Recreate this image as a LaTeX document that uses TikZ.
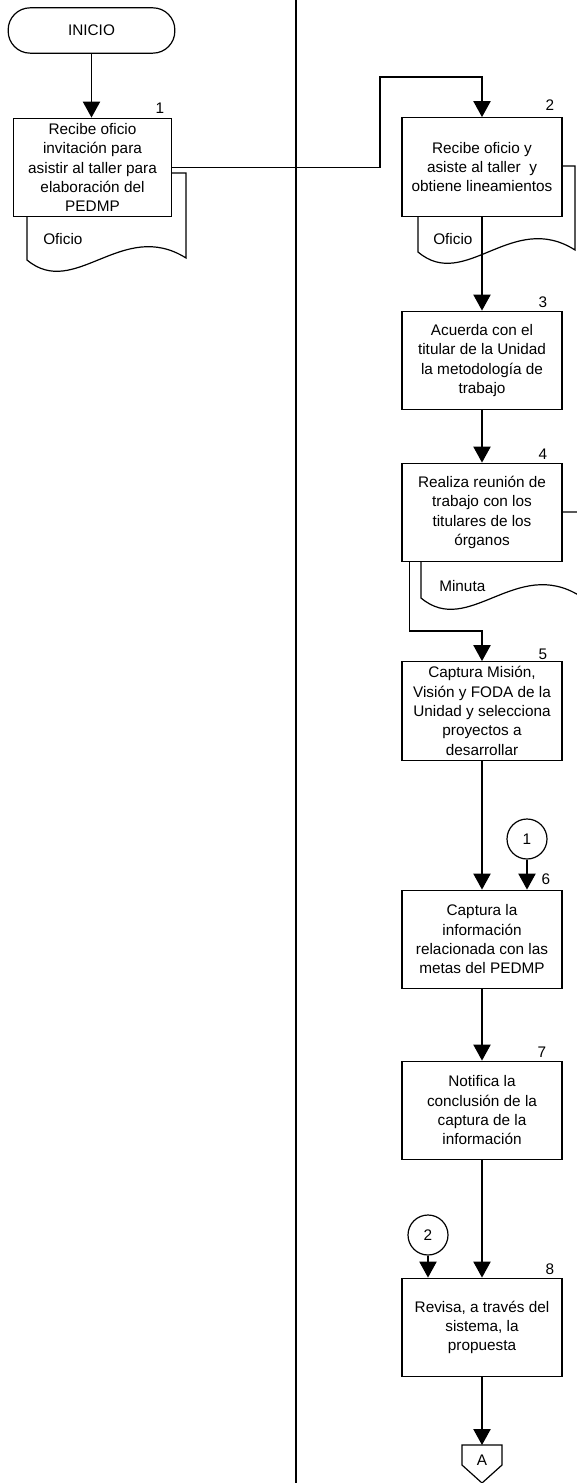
\documentclass[tikz,border=0pt]{standalone}
\usepackage{fontspec}
\setmainfont{Liberation Sans}
\usetikzlibrary{arrows.meta, positioning, calc}
\tikzset{
  block/.style={rectangle, draw, fill=white, line width=0.9pt, minimum width=#1,
                minimum height=74pt, align=center, inner ysep=1pt, inner xsep=1pt,
                font=\fontsize{11.5}{14.5}\selectfont},
  block/.default=120pt,
  terminal/.style={rectangle, rounded corners=16.5pt, draw, fill=white, line width=0.9pt,
                   minimum width=125pt, minimum height=34pt, font=\fontsize{11.5}{13}\selectfont},
  conn/.style={circle, draw, fill=white, line width=0.9pt, minimum size=30pt,
               inner sep=0pt, font=\fontsize{11.5}{13}\selectfont},
  arrow/.style={-{Triangle[width=13pt,length=12pt]}, line width=0.9pt},
  plain/.style={line width=0.9pt},
  doc/.style={draw, fill=white, line width=0.9pt},
  doctext/.style={anchor=west, inner sep=0pt, font=\fontsize{11.5}{13}\selectfont},
  numlabel/.style={inner sep=0pt, font=\fontsize{11.5}{13}\selectfont},
}
% document shape: x0, y0, x1, y1 (wave at the bottom)
\newcommand{\docshape}[4]{%
  \draw[doc] (#1,#2) -- (#3,#2) -- (#3,{#4-2})
    .. controls ({#3-0.4*(#3-#1)},{#4-42}) and ({#3-0.7*(#3-#1)},{#4+40}) .. (#1,#4) -- cycle;}

\begin{document}
\begin{tikzpicture}[x=0.75pt, y=-0.75pt]
  \useasboundingbox (0,0) rectangle (576,1483);

  % Lane
  \draw[plain] (296,0) -- (296,1483);

  % Inicio
  \node[terminal] (inicio) at (91.5,30.5) {INICIO};

  % Step 1
  \docshape{27}{173}{186}{260}
  \node[doctext] (d1) at (43,239) {Oficio};
  \node[block=119pt] (b1) at (92.5,167.5)
    {Recibe oficio\\invitación para\\asistir al taller para\\elaboración del\\PEDMP};
  \node[numlabel] (n1) at (160,108) {1};

  % Step 2
  \docshape{418}{166}{575}{252}
  \node[doctext] (d2) at (433,239) {Oficio};
  \node[block] (b2) at (482,167)
    {Recibe oficio y\\asiste al taller\ \ y\\obtiene lineamientos};
  \node[numlabel] (n2) at (550,105) {2};

  % Steps 3 and 4
  \node[block] (b3) at (482,360.5)
    {Acuerda con el\\titular de la Unidad\\la metodología de\\trabajo};
  \node[numlabel] (n3) at (543,302) {3};
  \docshape{421}{512}{580}{598}
  \node[doctext] (d4) at (439,586) {Minuta};
  \node[block] (b4) at (482,512.5)
    {Realiza reunión de\\trabajo con los\\titulares de los\\órganos};
  \node[numlabel] (n4) at (543,454) {4};

  % Steps 5 to 8
  \node[block] (b5) at (482,711)
    {Captura Misión,\\Visión y FODA de la\\Unidad y selecciona\\proyectos a\\desarrollar};
  \node[numlabel] (n5) at (543,654) {5};
  \node[conn] (c1) at (527,839) {1};
  \node[block] (b6) at (482,939.5)
    {Captura la\\información\\relacionada con las\\metas del PEDMP};
  \node[numlabel] (n6) at (546,879) {6};
  \node[block] (b7) at (482,1110.5)
    {Notifica la\\conclusión de la\\captura de la\\información};
  \node[numlabel] (n7) at (542,1052) {7};
  \node[conn] (c2) at (428,1235) {2};
  \node[block] (b8) at (482,1327.5)
    {Revisa, a través del\\sistema, la\\propuesta};
  \node[numlabel] (n8) at (550,1269) {8};

  % Off-page connector
  \coordinate (atop) at (482,1445);
  \draw[plain, fill=white] (atop) -- ++(20,0) -- ++(0,20) -- ++(-20,18) -- ++(-20,-18)
    -- ++(0,-20) -- cycle;
  \node[numlabel] (pa) at (482,1460) {A};

  % Connectors
  \coordinate (bend1) at (380,77);
  \coordinate (bend2) at ($(b5.north)+(0,-30)$);
  \draw[arrow] (inicio.south) -- (inicio.south |- b1.north);
  \draw[arrow] (b1.east) -| (bend1) -| (b2.north);
  \draw[arrow] (b2.south) -- (b3.north);
  \draw[arrow] (b3.south) -- (b4.north);
  \draw[arrow] ($(b4.south west)+(8,0)$) |- (bend2) -- (b5.north);
  \draw[arrow] (b5.south) -- (b6.north);
  \draw[arrow] (c1.south) -- (c1.south |- b6.north);
  \draw[arrow] (b6.south) -- (b7.north);
  \draw[arrow] (b7.south) -- (b8.north);
  \draw[arrow] (c2.south) -- (c2.south |- b8.north);
  \draw[arrow] (b8.south) -- (atop);
\end{tikzpicture}
\end{document}
